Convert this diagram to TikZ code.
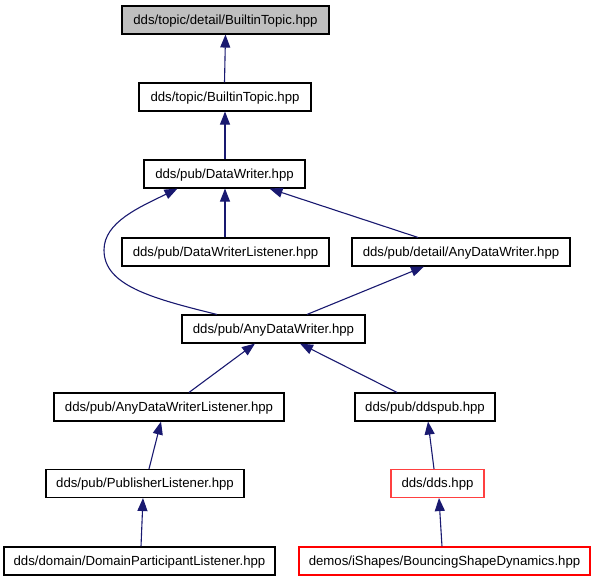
\documentclass[tikz,border=0pt]{standalone}
\usepackage{fontspec}
\setmainfont{Liberation Sans}
\usetikzlibrary{arrows.meta}
\definecolor{edgeblue}{RGB}{25,25,112}
\definecolor{fillgray}{RGB}{191,191,191}
\definecolor{lightred}{RGB}{255,64,64}
\tikzset{
  box/.style={draw=black, line width=1.1pt, rectangle, inner sep=0pt, minimum height=28pt,
    text height=9.4pt, text depth=1pt, font=\fontsize{13.2}{15}\selectfont},
  edge/.style={draw=edgeblue, line width=1.1pt, -{Triangle[length=13pt,width=10pt]}},
}
\begin{document}
\begin{tikzpicture}[x=1pt,y=-1pt]
\useasboundingbox (0,0) rectangle (595,581);
\node[box, fill=fillgray, minimum width=207pt] (A) at (225.5,20) {dds/topic/detail/BuiltinTopic.hpp};
\node[box, minimum width=172pt] (B) at (225,97) {dds/topic/BuiltinTopic.hpp};
\node[box, minimum width=161pt] (C) at (224.5,174) {dds/pub/DataWriter.hpp};
\node[box, minimum width=207pt] (D) at (225.5,252) {dds/pub/DataWriterListener.hpp};
\node[box, minimum width=218pt] (E) at (461,252) {dds/pub/detail/AnyDataWriter.hpp};
\node[box, minimum width=183pt] (F) at (273.5,329) {dds/pub/AnyDataWriter.hpp};
\node[box, minimum width=230pt] (G) at (169,407) {dds/pub/AnyDataWriterListener.hpp};
\node[box, minimum width=140pt] (H) at (425,407) {dds/pub/ddspub.hpp};
\node[box, minimum width=198pt] (I) at (145,483.5) {dds/pub/PublisherListener.hpp};
\node[box, draw=lightred, minimum width=93pt] (J) at (437.5,483.5) {dds/dds.hpp};
\node[box, minimum width=271pt] (K) at (139.5,561) {dds/domain/DomainParticipantListener.hpp};
\node[box, draw=red, minimum width=291pt] (L) at (444.5,561) {demos/iShapes/BouncingShapeDynamics.hpp};

\draw[edge] ([xshift=-0.5pt]B.north) -- (A.south);
\draw[edge] ([xshift=0.5pt]C.north) -- (B.south);
\draw[edge] ([xshift=-0.5pt]D.north) -- ([xshift=0.5pt]C.south);
\draw[edge] ([xshift=-43pt]E.north) -- ([xshift=45pt]C.south);
\draw[edge] ([xshift=-56.5pt]F.north) .. controls (150,298) and (104,285) .. (104,250)
  .. controls (104,222) and (140,207) .. ([xshift=-47pt]C.south);
\draw[edge] ([xshift=33.5pt]F.north) -- ([xshift=-37pt]E.south);
\draw[edge] ([xshift=20pt]G.north) -- ([xshift=-18.5pt]F.south);
\draw[edge] ([xshift=-28pt]H.north) -- ([xshift=26.5pt]F.south);
\draw[edge] ([xshift=4pt]I.north) -- ([xshift=-8pt]G.south);
\draw[edge] ([xshift=1.5pt]K.north) -- ([xshift=-2pt]I.south);
\draw[edge] ([xshift=-3.5pt]J.north) -- ([xshift=3pt]H.south);
\draw[edge] ([xshift=-2.5pt]L.north) -- ([xshift=1.5pt]J.south);
\end{tikzpicture}
\end{document}
